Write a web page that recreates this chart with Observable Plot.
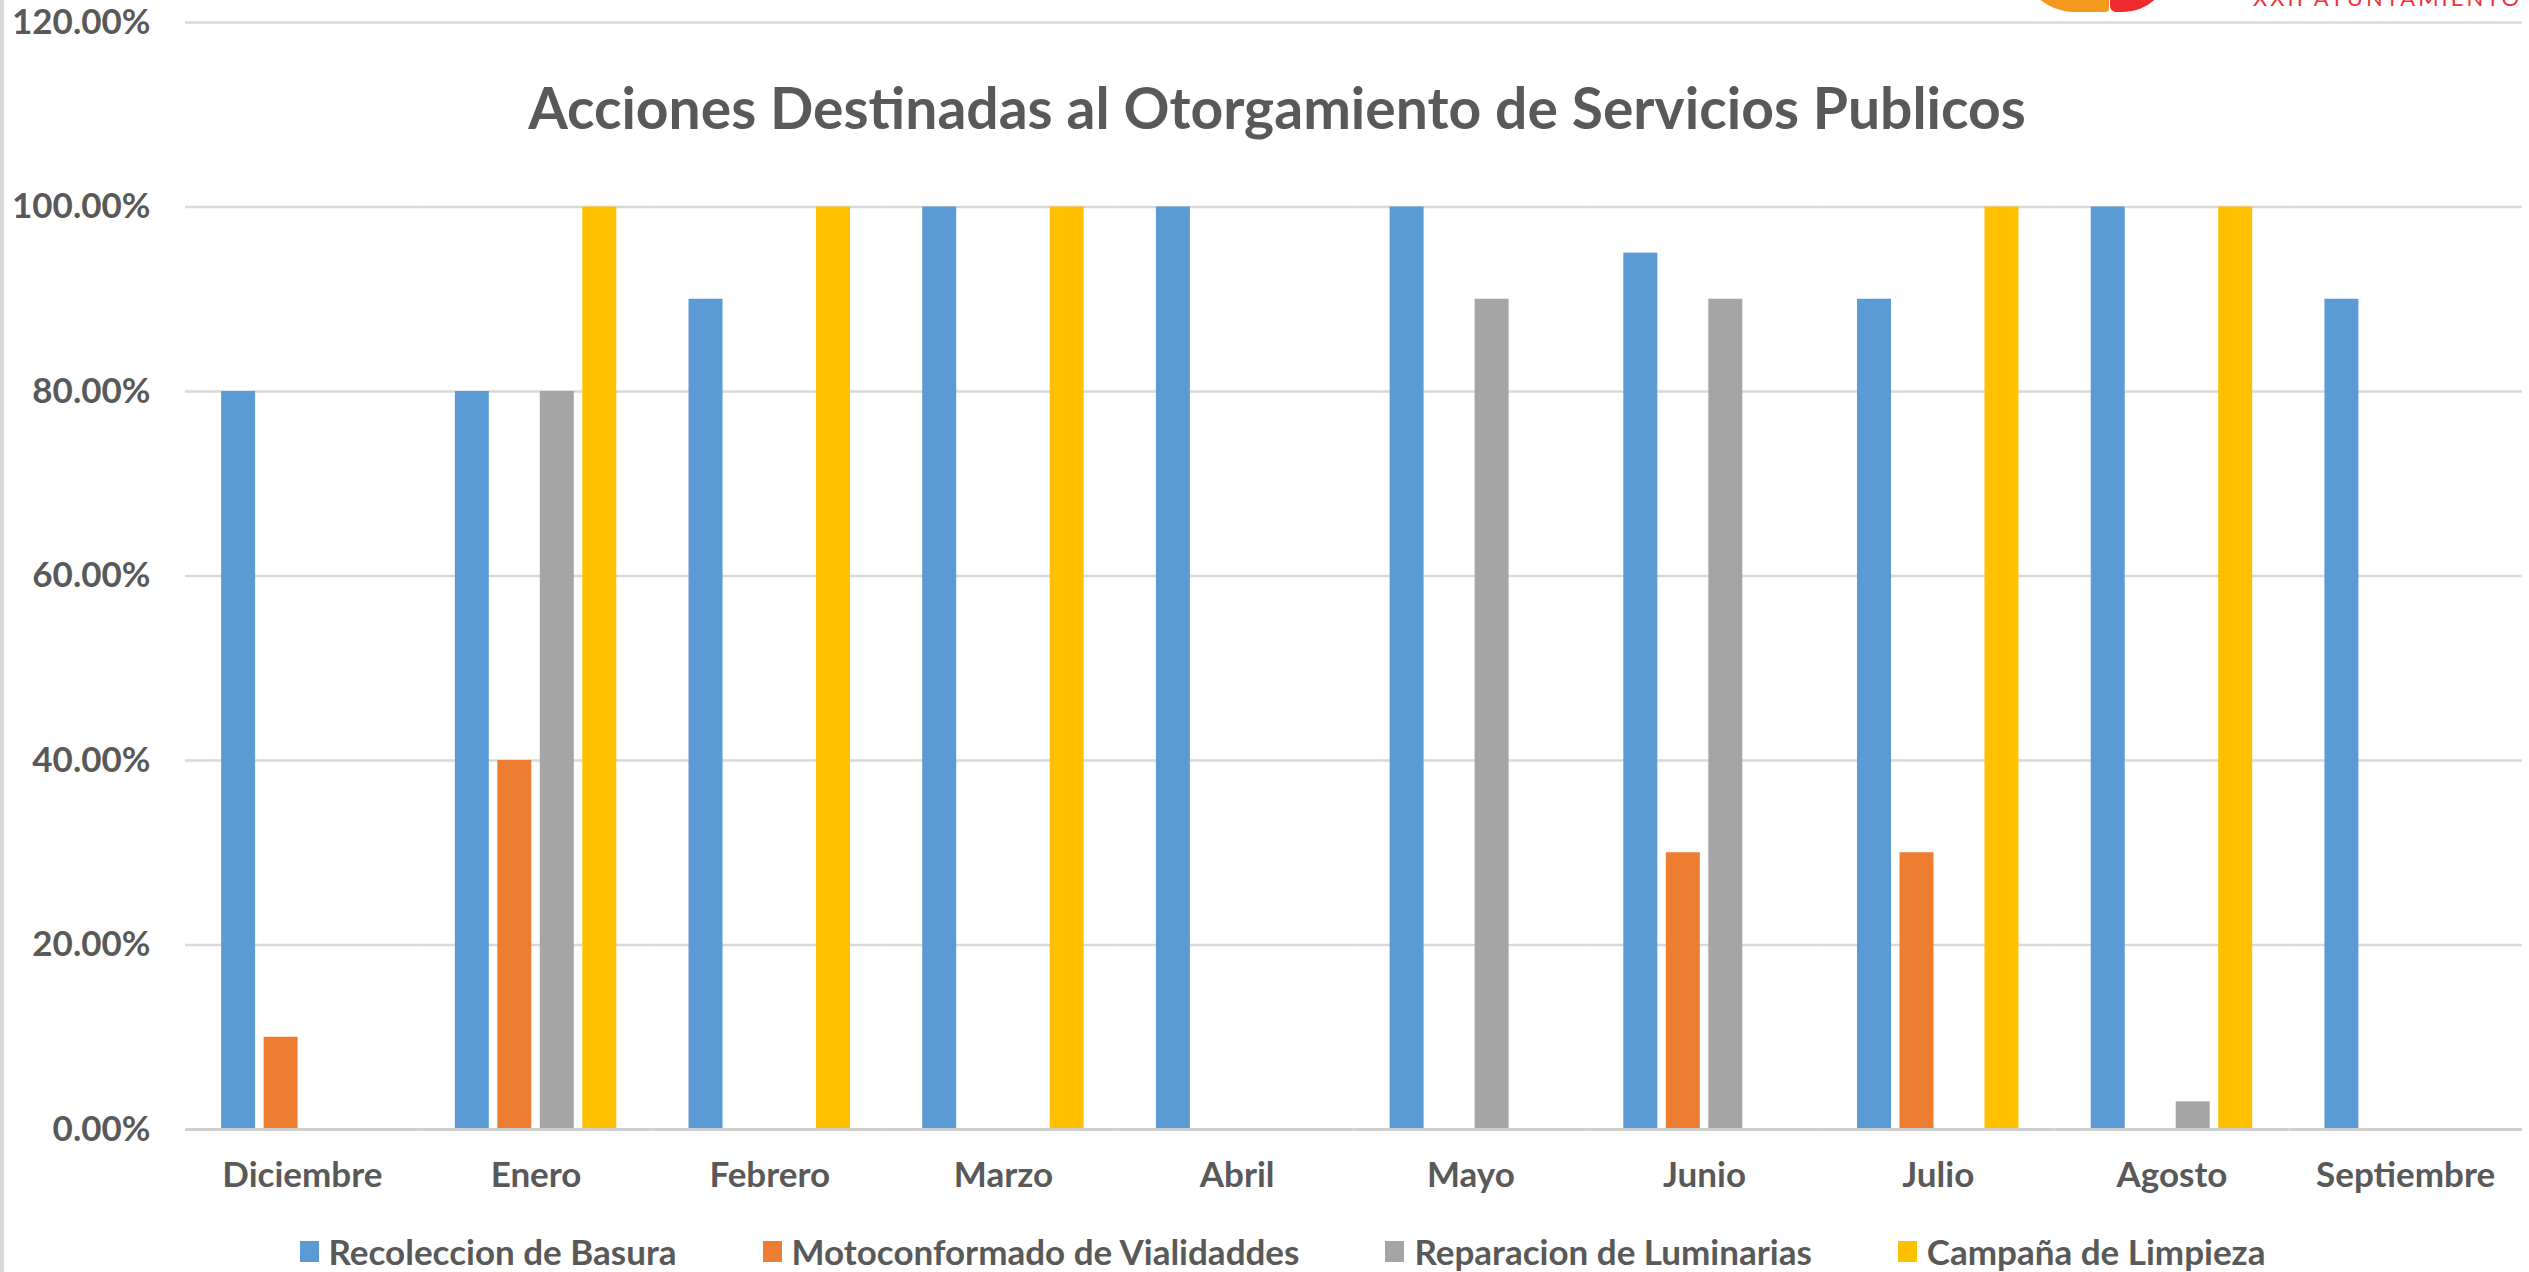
<!DOCTYPE html>
<html>
<head>
<meta charset="utf-8">
<script src="https://cdn.jsdelivr.net/npm/d3@7"></script>
<script src="https://cdn.jsdelivr.net/npm/@observablehq/plot@0.6"></script>
<style>
  html, body { margin: 0; padding: 0; background: #fff; }
  #wrap { position: relative; width: 2529px; height: 1272px; overflow: hidden; background: #fff;
          font-family: Lato, "Open Sans", sans-serif; font-weight: bold; color: #595959; }
  #leftline { position: absolute; left: 0; top: 0; width: 4px; height: 1272px; background: #d9d9d9; }
  #title { position: absolute; left: 0; width: 2529px; top: 73px; text-align: center; pointer-events: none; font-size: 57px; padding-left: 25px; box-sizing: border-box; }
  #chart { position: absolute; left: 0; top: 0; }
  #legend { position: absolute; left: 0; top: 1230px; width: 2529px; display: flex; justify-content: center; gap: 86px; font-size: 35px; padding-left: 36px; box-sizing: border-box; }
  #legend .item { display: flex; align-items: center; gap: 10px; }
  #legend .sw { width: 19px; height: 21px; display: inline-block; }
  #logo { position: absolute; left: 2253px; top: -16px; font-size: 22px; color: #f0323c; letter-spacing: 3px; font-family: Lato, sans-serif; font-weight: normal; white-space: nowrap; }
  #logoA { position: absolute; left: 2019px; top: -44px; width: 90px; height: 56px; background: #f39a1e; border-radius: 0 0 6px 90px; }
  #logoB { position: absolute; left: 2110px; top: -44px; width: 62px; height: 56px; background: #ee2a2f; border-radius: 0 0 50px 6px; }
</style>
</head>
<body>
<div id="wrap">
  <div id="leftline"></div>
  <div id="logoA"></div>
  <div id="logoB"></div>
  <div id="logo">XXII AYUNTAMIENTO</div>
  <div id="chart"></div>
  <div id="title">Acciones Destinadas al Otorgamiento de Servicios Publicos</div>
  <div id="legend"></div>
</div>
<script>
const months = ["Diciembre","Enero","Febrero","Marzo","Abril","Mayo","Junio","Julio","Agosto","Septiembre"];
const seriesNames = ["Recoleccion de Basura","Motoconformado de Vialidaddes","Reparacion de Luminarias","Campaña de Limpieza"];
const recoleccion    = [0.80, 0.80, 0.90, 1.00, 1.00, 1.00, 0.95, 0.90, 1.00, 0.90];
const motoconformado = [0.10, 0.40, null, null, null, null, 0.30, 0.30, null, null];
const reparacion     = [null, 0.80, null, null, null, 0.90, 0.90, null, 0.03, null];
const campana        = [null, 1.00, 1.00, 1.00, null, null, null, 1.00, 1.00, null];
const colors = ["#5b9bd5", "#ed7d31", "#a5a5a5", "#ffc000"];
const yTicks = [0, 0.2, 0.4, 0.6, 0.8, 1.0, 1.2];

const seriesValues = [recoleccion, motoconformado, reparacion, campana];
const data = months.flatMap((m, i) => seriesNames.map((s, j) => ({month: m, series: s, value: seriesValues[j][i]})))
  .filter(d => d.value != null);

const chart = Plot.plot({
  width: 2529,
  height: 1210,
  marginLeft: 185,
  marginRight: 7,
  marginTop: 22,
  marginBottom: 81,
  style: {fontFamily: 'Lato, "Open Sans", sans-serif', fontSize: "35px", fontWeight: "bold", color: "#595959", background: "transparent", overflow: "visible"},
  facet: {data, x: "month"},
  fx: {domain: months, padding: 0, round: false, axis: "bottom", label: null, tickSize: 0, tickPadding: 33},
  x: {domain: seriesNames, paddingInner: 0.2, paddingOuter: 0.85, round: false, axis: null},
  y: {domain: [0, 1.2], ticks: yTicks, tickFormat: d => (d * 100).toFixed(2) + "%", tickSize: 0, tickPadding: 35, label: null},
  color: {domain: seriesNames, range: colors},
  marks: [
    Plot.ruleY(yTicks.filter(t => t > 0), {stroke: "#d9d9d9", strokeWidth: 2.5}),
    Plot.barY(data, {x: "series", y: "value", fill: "series"}),
    Plot.ruleY([0], {stroke: "#cfcfcf", strokeWidth: 3})
  ]
});
document.getElementById("chart").appendChild(chart);

const legend = document.getElementById("legend");
seriesNames.forEach((s, i) => {
  const item = document.createElement("div");
  item.className = "item";
  const sw = document.createElement("span");
  sw.className = "sw";
  sw.style.background = colors[i];
  const t = document.createElement("span");
  t.textContent = s;
  item.appendChild(sw);
  item.appendChild(t);
  legend.appendChild(item);
});
</script>
</body>
</html>
